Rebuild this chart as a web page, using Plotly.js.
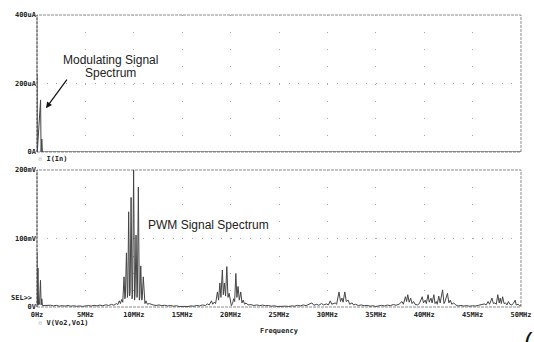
<!DOCTYPE html>
<html>
<head>
<meta charset="utf-8">
<script src="https://cdn.plot.ly/plotly-3.0.1.min.js"></script>
<style>html,body{margin:0;padding:0;background:#fff;}#chart{width:534px;height:342px;}</style>
</head>
<body>
<div id="chart"></div>
<script>
// Frequency axis ticks (MHz) and labels
const xTickVals = [0, 5, 10, 15, 20, 25, 30, 35, 40, 45, 50];
const xTickText = ["0Hz", "5MHz", "10MHz", "15MHz", "20MHz", "25MHz", "30MHz", "35MHz", "40MHz", "45MHz", "50MHz"];
const topTickVals = [0, 200, 400];
const topTickText = ["0A", "200uA", "400uA"];
const botTickVals = [0, 100, 200];
const botTickText = ["0V", "100mV", "200mV"];

// Top trace: I(In) spectrum (frequency MHz, current uA)
const freqI = [0, 0.03, 0.37, 0.42, 0.5, 0.56, 50];
const ampI  = [228, 0, 152, 0, 38, 0, 0];

// Bottom trace: V(Vo2,Vo1) spectrum (frequency MHz, voltage mV)
const freqV = [
  0, 0.04, 0.1, 0.16, 0.26, 0.36, 0.43, 0.5, 0.56,
  0.8, 1.1, 1.4, 1.7, 2.0, 2.3, 2.6, 2.9, 3.2, 3.5, 3.8, 4.1, 4.4, 4.7, 5.0, 5.3, 5.6, 5.9, 6.2, 6.5, 6.8, 7.1, 7.4, 7.7, 7.95, 8.2, 8.35, 8.5, 8.62, 8.75, 8.86,
  8.99, 9.08, 9.13, 9.24, 9.34, 9.38, 9.47, 9.57, 9.62, 9.72, 9.82, 9.87, 9.98, 10.08, 10.13, 10.23, 10.33, 10.37, 10.47, 10.57, 10.62, 10.72, 10.82, 10.87, 10.98, 11.08, 11.15, 11.26, 11.4, 11.6, 11.8, 12.0,
  12.3, 12.6, 12.9, 13.2, 13.5, 13.8, 14.1, 14.4, 14.7, 15.0, 15.3, 15.6, 15.9, 16.2, 16.5, 16.8, 17.1, 17.4, 17.6, 17.8,
  18.02, 18.15, 18.3, 18.45, 18.64, 18.76, 18.89, 19.0, 19.15, 19.25, 19.36, 19.48, 19.61, 19.73, 19.85, 19.97, 20.08, 20.2, 20.32, 20.42, 20.54, 20.65, 20.77, 20.9, 21.05, 21.17, 21.3, 21.45, 21.6, 21.8,
  22.1, 22.4, 22.7, 23.0, 23.3, 23.6, 23.9, 24.2, 24.5, 24.8, 25.1, 25.4, 25.7, 26.0, 26.3, 26.6, 26.9, 27.2, 27.5, 27.8, 28.1, 28.4, 28.6, 28.9, 29.1, 29.4, 29.6, 29.9, 30.1, 30.3, 30.45, 30.6, 30.8, 30.95, 31.2, 31.35, 31.5, 31.62, 31.8, 31.95, 32.15, 32.3, 32.55, 32.7, 32.9,
  33.2, 33.5, 33.8, 34.1, 34.4, 34.7, 35.0, 35.3, 35.6, 35.9, 36.2, 36.5, 36.8, 37.1, 37.4,
  37.7, 37.85, 38.06, 38.18, 38.3, 38.45, 38.6, 38.75, 38.9, 39.05, 39.3, 39.5, 39.8, 39.92, 40.1, 40.22, 40.4, 40.52, 40.7, 40.82, 41.0, 41.12, 41.25, 41.35, 41.5, 41.65, 41.9, 42.05, 42.15, 42.4, 42.55, 42.7, 42.85, 43.05, 43.25,
  43.5, 43.8, 44.1, 44.4, 44.7, 45.0, 45.3, 45.6, 45.9, 46.2, 46.4,
  46.6, 46.75, 47.0, 47.15, 47.3, 47.45, 47.6, 47.75, 47.85, 47.97, 48.1, 48.25, 48.4, 48.55, 48.7, 48.85, 49.05, 49.2, 49.4, 49.5, 49.7, 49.85, 50
];
const ampV = [
  80, 3, 57, 3, 4, 39, 3, 12, 2,
  2.2, 1.4, 2.6, 1.6, 2.4, 1.2, 2.0, 1.3, 2.2, 1.1, 1.8, 1.0, 1.6, 0.9, 1.5, 2.1, 1.4, 2.4, 1.6, 2.8, 1.8, 3.2, 2.2, 3.8, 2.6, 5, 3.5, 9, 5, 11, 7,
  44, 12, 16, 79, 14, 20, 139, 16, 22, 160, 12, 18, 200, 10, 18, 105, 14, 20, 175, 10, 14, 60, 10, 12, 44, 6, 5, 9, 4, 5, 3.5, 3,
  2.2, 3, 2, 2.6, 1.6, 2.2, 1.2, 1.8, 0.8, 0.6, 1.2, 0.8, 1.6, 1.2, 2.2, 1.6, 3, 2.2, 4.5, 3,
  9, 4, 7, 5, 22, 10, 35, 14, 54, 18, 35, 16, 59, 14, 20, 6, 2, 5, 12, 8, 49, 14, 30, 10, 22, 6, 10, 4, 6, 3,
  3.5, 2.2, 3, 2, 2.8, 1.8, 2.2, 1.2, 1.8, 0.8, 1.2, 0.6, 1.2, 0.8, 1.6, 1.2, 2.4, 1.6, 3, 2, 3.5, 6, 2.5, 4, 2.5, 5, 3, 4.5, 3, 9, 4, 5, 6, 4, 22, 8, 13, 7, 22, 8, 10, 4, 6, 3, 4,
  2.2, 3, 1.8, 2.4, 1.2, 1.8, 0.8, 1.2, 2.4, 1.6, 2.8, 2, 3.5, 2.6, 4,
  8, 4, 15, 8, 18, 7, 13, 5, 8, 4, 3, 5, 15, 6, 10, 5, 18, 7, 13, 6, 18, 5, 8, 4, 16, 6, 25, 5, 8, 20, 6, 10, 4, 6, 3,
  1.5, 2.2, 1.4, 2, 1.2, 1.8, 1.4, 2.4, 3, 4.5, 3,
  8, 4, 13, 5, 6, 4, 18, 6, 13, 5, 15, 5, 6, 3, 8, 4, 3, 5, 10, 3, 4, 2, 3
];

const tickFont = {family: "DejaVu Sans Mono", size: 7, weight: "bold", color: "#222"};
const labelFont = {family: "Liberation Sans, Arial", size: 12, color: "#222"};
const gridColor = "#a8a8a8";
const borderColor = "#8c8c8c";

const traces = [
  {x: freqI, y: ampI, xaxis: "x2", yaxis: "y2", type: "scatter", mode: "lines",
   line: {color: "#454545", width: 1}, hoverinfo: "skip", showlegend: false},
  {x: freqV, y: ampV, xaxis: "x", yaxis: "y", type: "scatter", mode: "lines",
   line: {color: "#454545", width: 1}, hoverinfo: "skip", showlegend: false}
];

const xCommon = {
  range: [0, 50], tickmode: "array", tickvals: xTickVals, ticktext: xTickText,
  showgrid: true, gridcolor: gridColor, gridwidth: 1, griddash: "1px,16.125px",
  zeroline: false, showline: false, ticks: "", tickfont: tickFont, fixedrange: true
};

const layout = {
  width: 534, height: 342,
  margin: {l: 37, r: 13, t: 15, b: 35},
  paper_bgcolor: "#fff", plot_bgcolor: "#fff",
  showlegend: false,
  xaxis: Object.assign({}, xCommon, {domain: [0, 1], anchor: "y", ticklabelstandoff: 2}),
  xaxis2: Object.assign({}, xCommon, {domain: [0, 1], anchor: "y2", showticklabels: false}),
  yaxis: {
    domain: [0, 0.4692], range: [0, 200], tickmode: "array", tickvals: botTickVals, ticktext: botTickText,
    showgrid: true, gridcolor: gridColor, gridwidth: 1, griddash: "1px,8.68px",
    zeroline: false, showline: false, ticks: "", tickfont: tickFont, fixedrange: true
  },
  yaxis2: {
    domain: [0.5308, 1], range: [0, 400], tickmode: "array", tickvals: topTickVals, ticktext: topTickText,
    showgrid: true, gridcolor: gridColor, gridwidth: 1, griddash: "1px,8.68px",
    zeroline: false, showline: false, ticks: "", tickfont: tickFont, fixedrange: true
  },
  shapes: [
    {type: "rect", xref: "x domain", yref: "y domain", x0: 0, x1: 1, y0: 0, y1: 1,
     line: {color: borderColor, width: 1, dash: "3px,1px"}, layer: "below"},
    {type: "rect", xref: "x2 domain", yref: "y2 domain", x0: 0, x1: 1, y0: 0, y1: 1,
     line: {color: borderColor, width: 1, dash: "3px,1px"}, layer: "below"},
    {type: "line", xref: "x domain", yref: "y domain", x0: 0, x1: 0, y0: 0, y1: 1,
     line: {color: "#555", width: 1, dash: "3px,1px"}, layer: "below"},
    {type: "line", xref: "x2 domain", yref: "y2 domain", x0: 0, x1: 0, y0: 0, y1: 1,
     line: {color: "#555", width: 1, dash: "3px,1px"}, layer: "below"}
  ],
  annotations: [
    {xref: "x2", yref: "y2", x: 7.6, y: 268, text: "Modulating Signal", showarrow: false, font: labelFont},
    {xref: "x2", yref: "y2", x: 7.6, y: 230, text: "Spectrum", showarrow: false, font: labelFont},
    {xref: "x", yref: "y", x: 17.7, y: 120, text: "PWM Signal Spectrum", showarrow: false, font: labelFont},
    {xref: "x2", yref: "y2", x: 0.93, y: 128, text: "", showarrow: true, ax: 22, ay: -30,
     arrowhead: 2, arrowsize: 1, arrowwidth: 1.2, arrowcolor: "#111", standoff: 0, startstandoff: 0},
    {xref: "paper", yref: "y2 domain", x: 0, y: 0, xanchor: "left", yanchor: "middle", yshift: -7, xshift: -1,
     text: '<span style="color:#999">▫</span> I(In)', showarrow: false, font: tickFont},
    {xref: "paper", yref: "y domain", x: 0, y: 0, xanchor: "left", yanchor: "middle", yshift: -16, xshift: -1,
     text: '<span style="color:#999">▫</span> V(Vo2,Vo1)', showarrow: false, font: tickFont},
    {xref: "paper", yref: "y domain", x: 0.5, y: 0, xanchor: "center", yanchor: "middle", yshift: -24,
     text: "Frequency", showarrow: false, font: tickFont},
    {xref: "paper", yref: "y domain", x: 0, y: 0, xanchor: "right", yanchor: "middle", yshift: 9, xshift: -3,
     text: "SEL>>", showarrow: false, font: tickFont},
    {xref: "paper", yref: "paper", x: 1.0, y: 0, xanchor: "left", yanchor: "middle", yshift: -35, xshift: 1,
     text: "(b)", showarrow: false, font: {family: "Liberation Sans, Arial", size: 26, color: "#111"}}
  ]
};

Plotly.newPlot("chart", traces, layout, {staticPlot: true, displayModeBar: false});
</script>
</body>
</html>
